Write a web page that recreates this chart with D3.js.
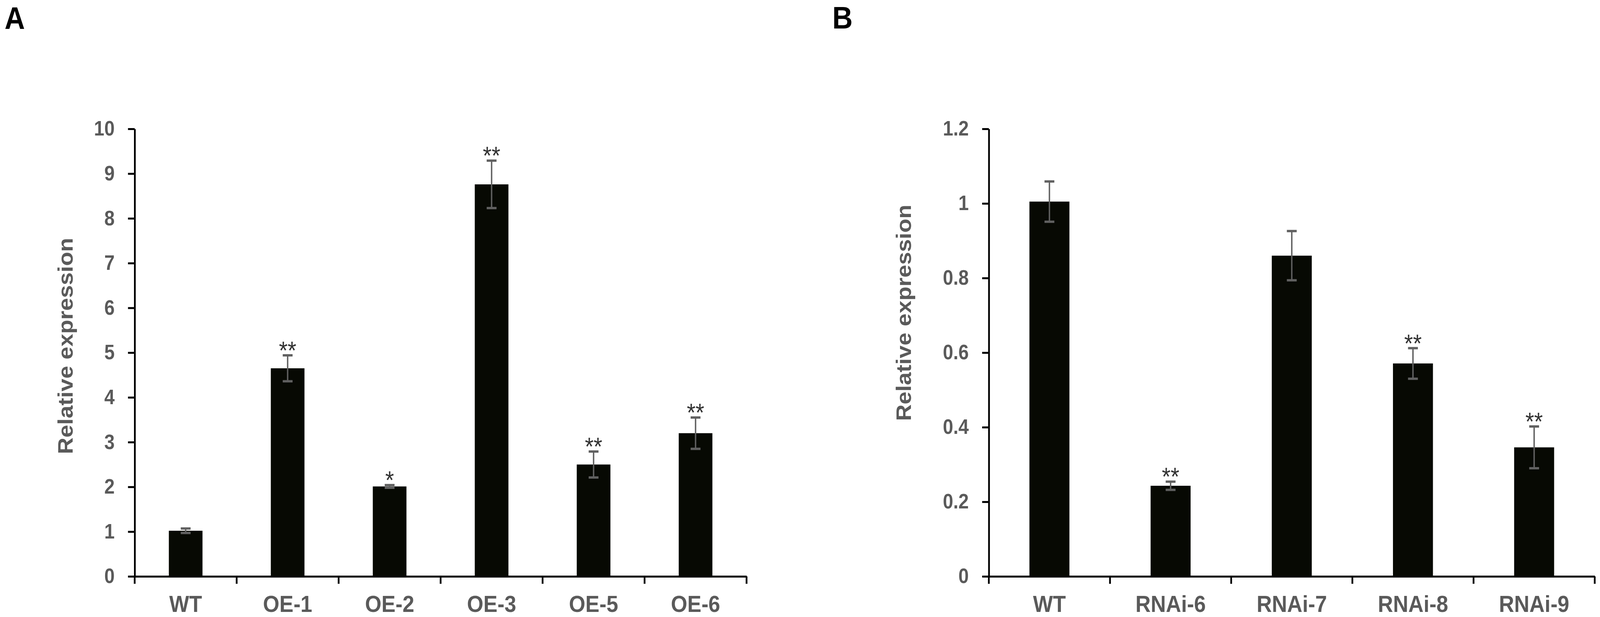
<!DOCTYPE html>
<html>
<head>
<meta charset="utf-8">
<script src="https://cdn.jsdelivr.net/npm/d3@7"></script>
<style>
  html, body { margin: 0; background: #fff; overflow: hidden; }
  svg { display: block; font-family: "Liberation Sans", Arial, sans-serif; }
</style>
</head>
<body>
<div id="theGraph"></div>
<script>
// Panel A - overexpression lines
var catA = ["WT", "OE-1", "OE-2", "OE-3", "OE-5", "OE-6"];
var meanA = [1.02, 4.65, 2.01, 8.76, 2.50, 3.20];
var sdA = [0.05, 0.29, 0.03, 0.53, 0.29, 0.35];
var starsA = ["", "**", "*", "**", "**", "**"];
var ticksA = [0, 1, 2, 3, 4, 5, 6, 7, 8, 9, 10];

// Panel B - RNAi lines
var catB = ["WT", "RNAi-6", "RNAi-7", "RNAi-8", "RNAi-9"];
var meanB = [1.005, 0.243, 0.86, 0.571, 0.346];
var sdB = [0.054, 0.011, 0.066, 0.041, 0.056];
var starsB = ["", "**", "", "**", "**"];
var ticksB = [0, 0.2, 0.4, 0.6, 0.8, 1, 1.2];

const width = 4550, height = 1580;
const textGray = "#5a5a5a";

// the browser window may be narrower than the figure, so draw in figure
// units and let the viewBox stretch it onto the whole window
const svg = d3.select("#theGraph")
            .append("svg")
                .attr("width", window.innerWidth)
                .attr("height", window.innerHeight)
                .attr("viewBox", `0 0 ${width} ${height}`)
                .attr("preserveAspectRatio", "none");

// panel letters
svg.append("text").attr("x", 13).attr("y", 74)
    .style("font-size", "80px").style("font-weight", "bold").text("A");
svg.append("text").attr("x", 2367).attr("y", 73)
    .style("font-size", "80px").style("font-weight", "bold").text("B");

drawPanel({cats: catA, means: meanA, sds: sdA, stars: starsA, ticks: ticksA,
           left: 383, right: 2123, labelX: 207, labelY: 886});
drawPanel({cats: catB, means: meanB, sds: sdB, stars: starsB, ticks: ticksB,
           left: 2812, right: 4535, labelX: 2591, labelY: 801});

function drawPanel(p) {
    const top = 330, bottom = 1476;

    const x = d3.scaleBand()
                .domain(p.cats)
                .range([p.left, p.right])
                .paddingInner(0.67)
                .paddingOuter(0.335);
    const y = d3.scaleLinear()
                .domain([0, d3.max(p.ticks)])
                .range([bottom, top]);

    const g = svg.append("g");

    // bars
    g.selectAll(".bar").data(p.cats).enter()
        .append("rect")
            .attr("class", "bar")
            .attr("x", d => x(d))
            .attr("y", (d, i) => y(p.means[i]))
            .attr("width", x.bandwidth())
            .attr("height", (d, i) => y(0) - y(p.means[i]))
            .style("fill", "#070903");

    // error bars
    const capW = 28;
    const cx = d => x(d) + x.bandwidth() / 2;
    const err = g.selectAll(".err").data(p.cats).enter()
        .append("g").attr("class", "err")
        .style("stroke", "#606060").style("stroke-width", 4);
    err.append("line")
        .attr("x1", cx).attr("x2", cx)
        .attr("y1", (d, i) => y(p.means[i] + p.sds[i]))
        .attr("y2", (d, i) => y(p.means[i] - p.sds[i]));
    [1, -1].forEach(sign => {
        err.append("line")
            .attr("x1", d => cx(d) - capW / 2)
            .attr("x2", d => cx(d) + capW / 2)
            .attr("y1", (d, i) => y(p.means[i] + sign * p.sds[i]))
            .attr("y2", (d, i) => y(p.means[i] + sign * p.sds[i]))
            .style("stroke-width", 6);
    });

    // significance stars
    g.selectAll(".star").data(p.cats).enter()
        .append("text")
            .attr("class", "star")
            .attr("x", cx)
            .attr("y", (d, i) => y(p.means[i] + p.sds[i]) + 10)
            .attr("text-anchor", "middle")
            .style("font-size", "64px")
            .style("fill", "#333")
            .text((d, i) => p.stars[i]);

    // y axis
    const yAxis = g.append("g")
        .attr("transform", `translate(${p.left},0)`)
        .call(d3.axisLeft(y).tickValues(p.ticks).tickFormat(d3.format("~g"))
              .tickSize(19).tickSizeOuter(0).tickPadding(38));
    yAxis.selectAll("line, path").style("stroke", "#000").style("stroke-width", 5);
    yAxis.selectAll("text").style("font-size", "53px").style("font-weight", "bold")
        .style("fill", textGray).style("font-family", "Liberation Sans, Arial, sans-serif");

    // x axis: labels at band centres, ticks at band boundaries
    const xAxis = g.append("g")
        .attr("transform", `translate(0,${bottom})`)
        .call(d3.axisBottom(x).tickSize(0).tickPadding(48).tickSizeOuter(0));
    xAxis.select("path").style("stroke", "#000").style("stroke-width", 5);
    xAxis.selectAll("text").style("font-size", "60px").style("font-weight", "bold")
        .style("fill", textGray).style("font-family", "Liberation Sans, Arial, sans-serif");
    const bounds = d3.range(p.cats.length + 1).map(i => p.left + i * x.step());
    xAxis.selectAll(".bound").data(bounds).enter()
        .append("line")
            .attr("class", "bound")
            .attr("x1", d => d).attr("x2", d => d)
            .attr("y1", 0).attr("y2", 19)
            .style("stroke", "#000").style("stroke-width", 5);

    // y axis title
    g.append("text")
        .attr("transform", `translate(${p.labelX},${p.labelY}) rotate(-90)`)
        .attr("text-anchor", "middle")
        .style("font-size", "59px").style("font-weight", "bold")
        .style("fill", textGray)
        .text("Relative expression");
}
</script>
</body>
</html>
